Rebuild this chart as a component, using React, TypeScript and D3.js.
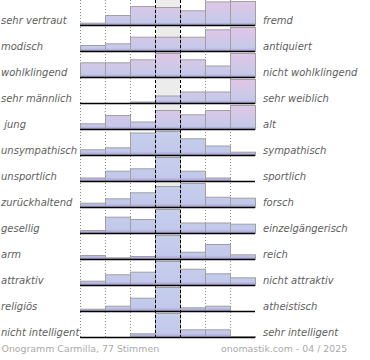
import React from "react";
import * as d3 from "d3";

const leftLabels = [
  "sehr vertraut",
  "modisch",
  "wohlklingend",
  "sehr männlich",
  " jung",
  "unsympathisch",
  "unsportlich",
  "zurückhaltend",
  "gesellig",
  "arm",
  "attraktiv",
  "religiös",
  "nicht intelligent",
];

const rightLabels = [
  "fremd",
  "antiquiert",
  "nicht wohlklingend",
  "sehr weiblich",
  "alt",
  "sympathisch",
  "sportlich",
  "forsch",
  "einzelgängerisch",
  "reich",
  "nicht attraktiv",
  "atheistisch",
  "sehr intelligent",
];

// estimated relative vote shares per scale step (7 steps)
const rowValues = [
  [2.3, 10, 19, 18, 14.7, 23.6, 24],
  [6, 7.7, 14.3, 14.3, 14.3, 21.7, 24],
  [14.7, 14.7, 17.7, 24, 17.7, 11.5, 24],
  [0, 0, 1.5, 7.5, 11.5, 11.5, 24],
  [5.7, 14, 7.5, 19, 14.7, 19, 24],
  [5.7, 7.7, 22.5, 24, 16.7, 9.5, 3.3],
  [3.5, 10.3, 12.7, 24, 10.3, 3.5, 0],
  [4.3, 8.7, 14.7, 21, 24, 10.3, 9.3],
  [3, 16.3, 14, 24, 10.5, 10.5, 9.3],
  [4, 1.7, 3, 24, 7.3, 15, 4.7],
  [4.3, 10.7, 13.3, 24, 16.3, 11.7, 7.7],
  [2.3, 5.3, 13.3, 24, 3.7, 5.3, 0],
  [0, 0, 3.7, 24, 7.7, 7.7, 1],
];

const rowTone = [
  "pink", "pink", "pink", "pink", "pink",
  "blue", "blue", "blue", "blue", "blue", "blue", "blue", "blue",
];

const footerLeft = "Onogramm Carmilla, 77 Stimmen";
const footerRight = "onomastik.com - 04 / 2025";

const steps = d3.range(7);

export default function App() {
  const W = 370;
  const H = 360;
  const x = d3.scaleLinear().domain([0, 7]).range([80, 255]);
  const baseY = d3.scaleLinear().domain([0, 1]).range([25, 51]);
  const barMax = 24;
  const gridBottom = baseY(rowValues.length - 1) + 1;

  const stopsFor = (tone: string) =>
    tone === "pink"
      ? [
          ["0%", "#e0c6e6"],
          ["55%", "#d0c8e8"],
          ["88%", "#c4c9ea"],
          ["100%", "#a89acd"],
        ]
      : [
          ["0%", "#c6cfec"],
          ["85%", "#c2c8ea"],
          ["100%", "#aa9fd1"],
        ];

  return (
    <svg
      width={W}
      height={H}
      style={{ position: "absolute", left: 0, top: 0, background: "#fff" }}
      fontFamily="DejaVu Sans"
    >
      <defs>
        {rowValues.map((_, i) => {
          const b = baseY(i);
          return (
            <linearGradient
              key={i}
              id={`g${i}`}
              gradientUnits="userSpaceOnUse"
              x1={0}
              x2={0}
              y1={b - barMax}
              y2={b}
            >
              {stopsFor(rowTone[i]).map(([o, c]) => (
                <stop key={o} offset={o} stopColor={c} />
              ))}
            </linearGradient>
          );
        })}
      </defs>

      {/* middle column background */}
      <rect x={x(3)} y={0} width={x(4) - x(3)} height={gridBottom} fill="#ececec" />

      {/* dotted grid lines */}
      {[0, 1, 2, 5, 6].map((k) => (
        <line
          key={k}
          x1={x(k) + 0.5}
          x2={x(k) + 0.5}
          y1={0}
          y2={gridBottom}
          stroke="#8a8a8a"
          strokeWidth={1}
          strokeDasharray="1,2"
        />
      ))}

      {/* bars */}
      {rowValues.map((vals, i) => {
        const b = baseY(i);
        const h = d3.scaleLinear().domain([0, d3.max(vals) as number]).range([0, barMax]);
        return (
          <g key={i}>
            {steps.map((k) =>
              vals[k] > 0 ? (
                <rect
                  key={k}
                  x={x(k) + 0.5}
                  y={b - h(vals[k]) + 0.5}
                  width={x(k + 1) - x(k)}
                  height={h(vals[k])}
                  fill={`url(#g${i})`}
                  stroke="#a0a0a0"
                  strokeWidth={1}
                />
              ) : null
            )}
            <line x1={x(0)} x2={x(7)} y1={b + 0.5} y2={b + 0.5} stroke="#000" strokeWidth={1.6} />
          </g>
        );
      })}

      {/* dashed middle lines */}
      {[3, 4].map((k) => (
        <line
          key={k}
          x1={x(k) + 0.5}
          x2={x(k) + 0.5}
          y1={0}
          y2={gridBottom}
          stroke="#000"
          strokeWidth={1}
          strokeDasharray="3,2"
        />
      ))}

      {/* labels */}
      {leftLabels.map((t, i) => (
        <text
          key={`l${i}`}
          x={1}
          y={baseY(i) - 1.5}
          fontSize={10}
          fontStyle="italic"
          fill="#5e5e5e"
          style={{ whiteSpace: "pre" }}
        >
          {t}
        </text>
      ))}
      {rightLabels.map((t, i) => (
        <text key={`r${i}`} x={263} y={baseY(i) - 1.5} fontSize={10} fontStyle="italic" fill="#5e5e5e">
          {t}
        </text>
      ))}

      <text x={1.5} y={352} fontSize={9.4} fill="#aaa">
        {footerLeft}
      </text>
      <text x={221} y={352} fontSize={9.4} fill="#aaa">
        {footerRight}
      </text>
    </svg>
  );
}
